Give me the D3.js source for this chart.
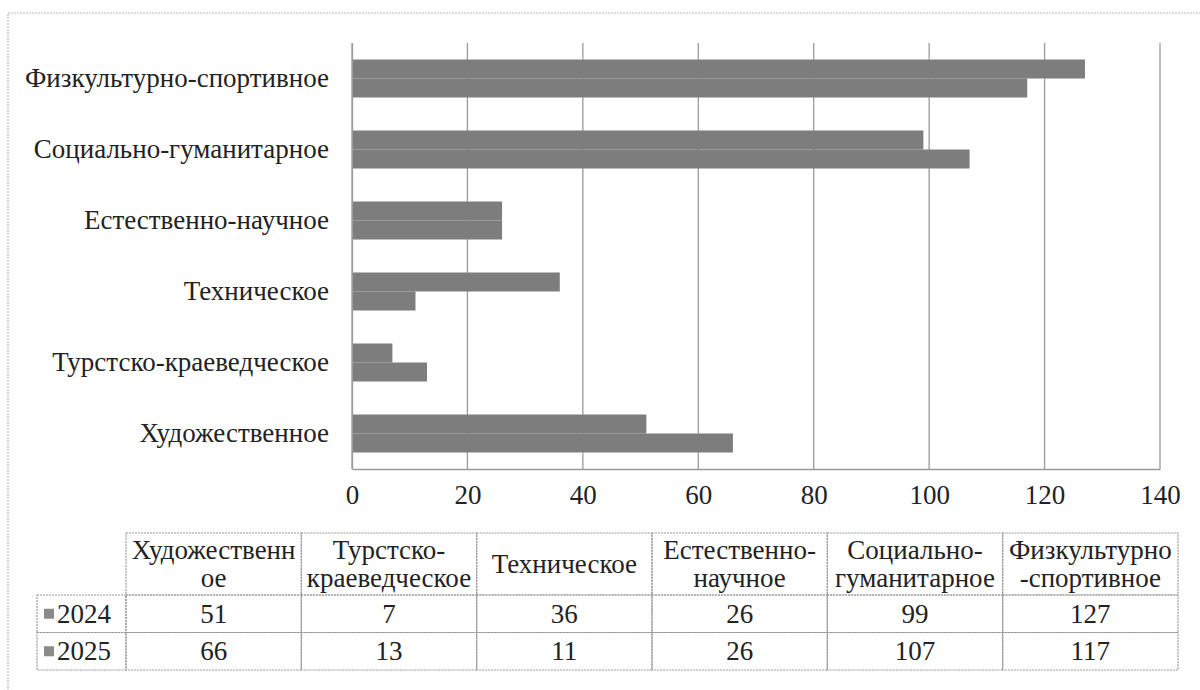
<!DOCTYPE html>
<html>
<head>
<meta charset="utf-8">
<script src="https://cdn.jsdelivr.net/npm/d3@7"></script>
<style>
  body { margin: 0; background: #fff; }
  svg text { font-family: "Liberation Serif", "DejaVu Serif", serif !important; fill: #222; }
</style>
</head>
<body>
<div id="chart"></div>
<script>
// categories in table order (bottom to top on the chart)
var categories = ["Художественное", "Турстско-краеведческое", "Техническое",
    "Естественно-научное", "Социально-гуманитарное", "Физкультурно-спортивное"];
var headerLines = [["Художественн", "ое"], ["Турстско-", "краеведческое"], ["Техническое"],
    ["Естественно-", "научное"], ["Социально-", "гуманитарное"], ["Физкультурно", "-спортивное"]];
var seriesNames = ["2024", "2025"];
var values2024 = [51, 7, 36, 26, 99, 127];
var values2025 = [66, 13, 11, 26, 107, 117];
var xTicks = [0, 20, 40, 60, 80, 100, 120, 140];

var W = 1200, H = 690;
var plot = { left: 352, right: 1160, top: 43, bottom: 469 };
var barColor = "#7d7d7d", lineColor = "#9a9a9a";
var fs = "27px";

var svg = d3.select("#chart").append("svg")
    .attr("width", W)
    .attr("height", H);

// outer frame (runs off the right and bottom edges like the scan)
svg.append("rect")
    .attr("x", 8).attr("y", 13)
    .attr("width", 1220).attr("height", 700)
    .attr("fill", "none")
    .attr("stroke", "#bbb")
    .attr("stroke-width", 1.2)
    .attr("stroke-dasharray", "2,1");

var x = d3.scaleLinear().domain([0, 140]).range([plot.left, plot.right]);
var y = d3.scaleBand().domain(categories.slice().reverse())
    .range([plot.top, plot.bottom]).padding(0);
var inner = d3.scaleBand().domain(seriesNames)
    .range([(y.bandwidth() - 38) / 2, (y.bandwidth() + 38) / 2]);

var rows = categories.map(function (c, i) {
    return { cat: c, vals: [{ s: "2024", v: values2024[i] }, { s: "2025", v: values2025[i] }] };
});

// gridlines
svg.append("g")
    .selectAll("line")
    .data(xTicks)
    .enter()
    .append("line")
    .attr("x1", function (d) { return x(d) })
    .attr("x2", function (d) { return x(d) })
    .attr("y1", plot.top)
    .attr("y2", plot.bottom)
    .attr("stroke", lineColor)
    .attr("stroke-width", 1.3);

// bars
var groups = svg.append("g")
    .selectAll("g")
    .data(rows)
    .enter()
    .append("g")
    .attr("transform", function (d) { return "translate(0," + y(d.cat) + ")" });

groups.selectAll("rect")
    .data(function (d) { return d.vals })
    .enter()
    .append("rect")
    .attr("x", x(0))
    .attr("y", function (d) { return inner(d.s) })
    .attr("width", function (d) { return x(d.v) - x(0) })
    .attr("height", inner.bandwidth())
    .attr("fill", barColor);

// bottom axis
var xAxis = svg.append("g")
    .attr("transform", "translate(0," + plot.bottom + ")")
    .call(d3.axisBottom(x).tickValues(xTicks).tickSize(0).tickPadding(16));
xAxis.select(".domain").attr("stroke", lineColor).attr("stroke-width", 1.3);
xAxis.selectAll("text").style("font-size", fs);

// category axis
var yAxis = svg.append("g")
    .attr("transform", "translate(" + plot.left + ",0)")
    .call(d3.axisLeft(y).tickSize(0).tickPadding(23));
yAxis.select(".domain").attr("stroke", lineColor).attr("stroke-width", 1.3);
yAxis.selectAll("text").style("font-size", fs);

// data table
var colX = d3.scaleBand().domain(categories).range([126, 1178]);
var tTop = 533, headBottom = 595, rowH = 37.5;
var tbl = svg.append("g");

var cellStroke = function (sel) {
    return sel.attr("fill", "none").attr("stroke", "#999").attr("stroke-width", 1.2)
        .attr("stroke-dasharray", "2,1");
};

// header cells
tbl.selectAll(".hcell")
    .data(categories)
    .enter()
    .append("rect")
    .attr("x", function (d) { return colX(d) })
    .attr("y", tTop)
    .attr("width", colX.bandwidth())
    .attr("height", headBottom - tTop)
    .call(cellStroke);

tbl.selectAll(".htext")
    .data(headerLines)
    .enter()
    .append("text")
    .attr("text-anchor", "middle")
    .style("font-size", fs)
    .attr("x", function (d, i) { return colX(categories[i]) + colX.bandwidth() / 2 })
    .attr("y", function (d) { return d.length === 1 ? 573 : 559 })
    .selectAll("tspan")
    .data(function (d) { return d })
    .enter()
    .append("tspan")
    .attr("x", function () { return d3.select(this.parentNode).attr("x") })
    .attr("dy", function (d, i) { return i === 0 ? 0 : 28 })
    .text(function (d) { return d });

// value rows
var series = [values2024, values2025];
series.forEach(function (vals, r) {
    var ry = headBottom + r * rowH;
    tbl.append("rect")
        .attr("x", 37).attr("y", ry)
        .attr("width", 126 - 37).attr("height", rowH)
        .call(cellStroke);
    tbl.append("rect")
        .attr("x", 44).attr("y", ry + rowH / 2 - 5)
        .attr("width", 10).attr("height", 10)
        .attr("fill", "#8a8a8a");
    tbl.append("text")
        .attr("x", 57).attr("y", ry + rowH / 2 + 9)
        .style("font-size", fs)
        .text(seriesNames[r]);
    tbl.selectAll(".v" + r)
        .data(vals)
        .enter()
        .append("rect")
        .attr("x", function (d, i) { return colX(categories[i]) })
        .attr("y", ry)
        .attr("width", colX.bandwidth())
        .attr("height", rowH)
        .call(cellStroke);
    tbl.selectAll(".t" + r)
        .data(vals)
        .enter()
        .append("text")
        .attr("text-anchor", "middle")
        .style("font-size", fs)
        .attr("x", function (d, i) { return colX(categories[i]) + colX.bandwidth() / 2 })
        .attr("y", ry + rowH / 2 + 9)
        .text(function (d) { return d });
});
</script>
</body>
</html>
